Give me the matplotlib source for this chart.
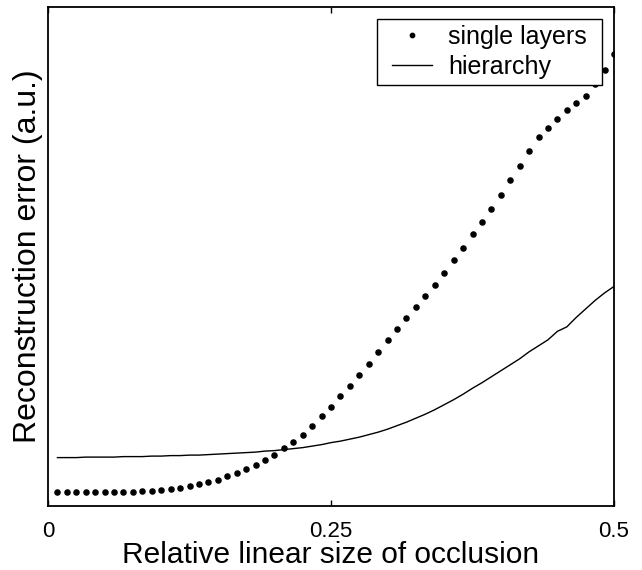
import numpy as np
import matplotlib
matplotlib.use("Agg")
import matplotlib.pyplot as plt
from matplotlib.path import Path

plt.rcParams['font.family'] = ['Liberation Sans', 'DejaVu Sans']

# relative linear size of occlusion (step 1/120)
occlusion = np.arange(1, 61) / 120.0

# reconstruction error (arbitrary units)
single_layers = [
    0.029, 0.029, 0.029, 0.029, 0.029, 0.029, 0.029, 0.029, 0.029, 0.030,
    0.031, 0.033, 0.035, 0.037, 0.040, 0.044, 0.048, 0.053, 0.060, 0.066,
    0.074, 0.083, 0.093, 0.103, 0.116, 0.128, 0.143, 0.161, 0.180, 0.199,
    0.220, 0.241, 0.263, 0.285, 0.308, 0.332, 0.355, 0.377, 0.399, 0.420,
    0.443, 0.466, 0.492, 0.517, 0.545, 0.569, 0.596, 0.624, 0.653, 0.682,
    0.711, 0.740, 0.757, 0.775, 0.793, 0.807, 0.821, 0.845, 0.873, 0.906,
]
hierarchy = [
    0.097, 0.097, 0.097, 0.098, 0.098, 0.098, 0.098, 0.099, 0.099, 0.099,
    0.100, 0.100, 0.101, 0.101, 0.102, 0.102, 0.103, 0.104, 0.105, 0.106,
    0.107, 0.108, 0.110, 0.111, 0.113, 0.115, 0.117, 0.120, 0.123, 0.127,
    0.130, 0.134, 0.138, 0.143, 0.148, 0.154, 0.161, 0.168, 0.176, 0.184,
    0.193, 0.203, 0.213, 0.224, 0.236, 0.247, 0.259, 0.271, 0.283, 0.295,
    0.309, 0.321, 0.333, 0.350, 0.359, 0.378, 0.395, 0.412, 0.427, 0.440,
]
xticks = [0, 0.25, 0.5]
xtick_labels = ['0', '0.25', '0.5']


def wide_box(x0, y0, width, height, mutation_size):
    # square legend frame with extra room left and right
    dx = 0.36 * mutation_size
    x1, y1 = x0 + width, y0 + height
    return Path([(x0 - dx, y0), (x1 + dx, y0), (x1 + dx, y1),
                 (x0 - dx, y1), (x0 - dx, y0)], closed=True)


fig = plt.figure(figsize=(6.42, 5.70), dpi=100)
ax = fig.add_axes([48 / 642, 1 - 506 / 570, 566 / 642, 499 / 570])

ax.plot(occlusion, single_layers, linestyle='none', marker='o', markersize=3.7,
        color='black', label='single layers')
ax.plot(occlusion, hierarchy, color='black', lw=1.0, label='hierarchy')

ax.set_xlim(0, 0.5)
ax.set_ylim(0, 1)
ax.set_xticks(xticks)
ax.set_xticklabels(xtick_labels)
ax.set_yticks([])
ax.tick_params(axis='x', direction='in', top=True, length=4, width=1,
               labelsize=16, pad=10.5)
for s in ax.spines.values():
    s.set_linewidth(1.3)

ax.set_xlabel("Relative linear size of occlusion", fontsize=21.5)
ax.xaxis.set_label_coords(0.5, -0.07)
ax.set_ylabel("Reconstruction error (a.u.)", fontsize=23)
ax.yaxis.set_label_coords(-0.009, 0.5)

leg = ax.legend(loc='upper right', bbox_to_anchor=(0.963, 0.976),
                borderaxespad=0, fontsize=18, numpoints=1, fancybox=False,
                edgecolor='black', framealpha=1, handlelength=1.6,
                handletextpad=0.64, labelspacing=0.24, borderpad=0.24,
                markerscale=0.85)
leg.get_frame().set_linewidth(1.0)
leg.get_frame().set_boxstyle(wide_box)

fig.savefig("out.png", dpi=100)
